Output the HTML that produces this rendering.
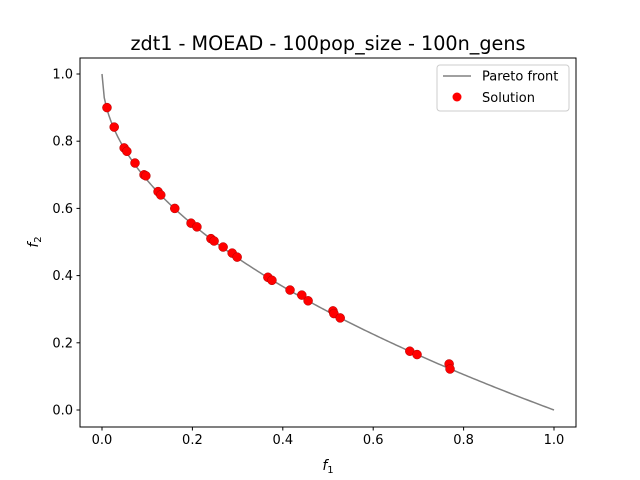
<!DOCTYPE html>
<html><head><meta charset="utf-8"><style>
body{margin:0;background:#fff}
svg{display:block;font-family:"DejaVu Sans","Liberation Sans",sans-serif}
</style></head><body>
<svg id="chart" width="640" height="480" viewBox="0 0 640 480" xmlns="http://www.w3.org/2000/svg">
<rect width="640" height="480" fill="#fff"/>
<text x="328" y="50" font-size="19.2" text-anchor="middle">zdt1 - MOEAD - 100pop_size - 100n_gens</text>
<g id="plot"></g>
<rect x="80" y="58" width="496" height="369" fill="none" stroke="#000" stroke-width="1"/>
<g id="ticks"></g>
<text x="328" y="470" font-size="14" text-anchor="middle" font-style="italic">f<tspan font-size="10" dy="3" font-style="normal">1</tspan></text>
<text transform="translate(38,242) rotate(-90)" font-size="14" text-anchor="middle" font-style="italic">f<tspan font-size="10" dy="3" font-style="normal">2</tspan></text>
<g>
<rect x="437" y="65" width="132" height="46" rx="3" fill="#fff" fill-opacity="0.8" stroke="#ccc"/>
<line x1="443" y1="76" x2="471" y2="76" stroke="#808080" stroke-width="1.5"/>
<text x="482" y="80.5" font-size="13">Pareto front</text>
<circle cx="457" cy="97" r="4.5" fill="#ff0000"/>
<text x="482" y="102" font-size="13">Solution</text>
</g>
</svg>
<script>
const xTicks=[0.0,0.2,0.4,0.6,0.8,1.0];
const yTicks=[0.0,0.2,0.4,0.6,0.8,1.0];
const xTickLabels=["0.0","0.2","0.4","0.6","0.8","1.0"];
const yTickLabels=["0.0","0.2","0.4","0.6","0.8","1.0"];
const solF1=[0.011,0.027,0.049,0.055,0.073,0.093,0.097,0.124,0.130,0.161,0.197,0.210,0.241,0.248,0.268,0.288,0.299,0.367,0.376,0.416,0.442,0.456,0.511,0.513,0.527,0.681,0.697,0.768,0.770];
const solF2=[0.900,0.842,0.780,0.770,0.735,0.700,0.697,0.650,0.640,0.600,0.556,0.545,0.510,0.503,0.485,0.467,0.455,0.395,0.386,0.357,0.342,0.325,0.295,0.287,0.274,0.175,0.165,0.137,0.122];
const NS="http://www.w3.org/2000/svg";
const X=v=>102+v*452, Y=v=>410-v*336;
const plot=document.getElementById('plot'), tk=document.getElementById('ticks');
function mk(t,a,p){const e=document.createElementNS(NS,t);for(const k in a)e.setAttribute(k,a[k]);p.appendChild(e);return e;}
let d="";
for(let i=0;i<=200;i++){const x=i/200;d+=(i?"L":"M")+X(x).toFixed(2)+","+Y(1-Math.sqrt(x)).toFixed(2);}
const pf=mk('path',{d:d,fill:"none",stroke:"#808080","stroke-width":1.5},plot);


solF1.forEach((x,i)=>{
 const c=mk('circle',{cx:X(x),cy:Y(solF2[i]),r:4.5,fill:"#ff0000",stroke:"#b00000","stroke-width":0.5},plot);
 
 
});
xTicks.forEach((v,i)=>{
 const l=mk('line',{x1:X(v),x2:X(v),y1:427,y2:430.5,stroke:"#000"},tk);
 
 
 const t=mk('text',{x:X(v),y:444,"font-size":13,"text-anchor":"middle"},tk);t.textContent=xTickLabels[i];
 
 
});
yTicks.forEach((v,i)=>{
 const l=mk('line',{x1:76.5,x2:80,y1:Y(v),y2:Y(v),stroke:"#000"},tk);
 
 
 const t=mk('text',{x:73,y:Y(v)+4.5,"font-size":13,"text-anchor":"end"},tk);t.textContent=yTickLabels[i];
 
 
});
</script>
</body></html>
